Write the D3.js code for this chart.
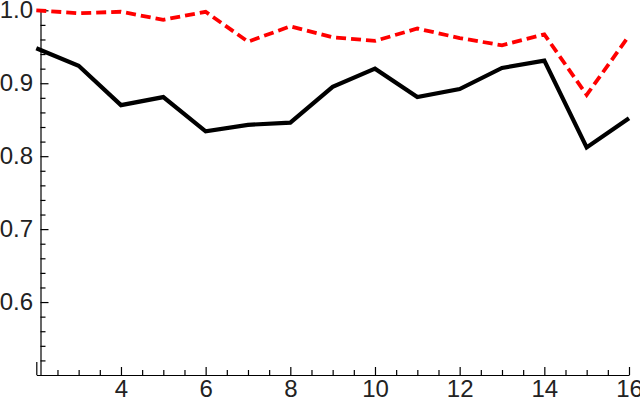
<!DOCTYPE html>
<html>
<head>
<meta charset="utf-8">
<script src="https://cdn.jsdelivr.net/npm/d3@7"></script>
<style>
html,body{margin:0;padding:0;background:#fff;}
svg{display:block;}
</style>
</head>
<body>
<svg id="chart" width="640" height="401"></svg>
<script>
const xValues = [2,3,4,5,6,7,8,9,10,11,12,13,14,15,16];
const seriesSolid = [0.948,0.924,0.870,0.881,0.834,0.843,0.846,0.895,0.920,0.881,0.892,0.921,0.931,0.812,0.852];
const seriesDashed = [1.000,0.996,0.998,0.987,0.998,0.957,0.978,0.963,0.958,0.975,0.962,0.952,0.967,0.884,0.965];
const xMajorTicks = [4,6,8,10,12,14,16];
const yMajorTicks = [0.6,0.7,0.8,0.9,1.0];

const svg = d3.select("#chart");
const x = d3.scaleLinear().domain([2,16]).range([36.3,629]);
const y = d3.scaleLinear().domain([0.5,1.0]).range([375,10.3]);
const axisX = 40.5, axisY = 375;

const xMinor = d3.range(2,16.001,0.5).filter(v=>!xMajorTicks.includes(v) && v!==2);
const yMinor = d3.range(0.5,1.0001,0.02).map(v=>+v.toFixed(2)).filter(v=>Math.abs(v*10-Math.round(v*10))>1e-6);

// x axis
const gx = svg.append("g").attr("transform",`translate(0,${axisY})`);
gx.call(d3.axisBottom(x).tickValues(xMinor).tickSizeInner(-5).tickSizeOuter(0).tickFormat(""));
const gx2 = svg.append("g").attr("transform",`translate(0,${axisY})`);
gx2.call(d3.axisBottom(x).tickValues(xMajorTicks).tickSizeInner(-8).tickSizeOuter(0).tickPadding(5).tickFormat(d3.format("d")));
gx2.select(".domain").remove();
const gx3 = svg.append("g").attr("transform",`translate(0,${axisY})`);
gx3.call(d3.axisBottom(x).tickValues([2]).tickSizeInner(-13).tickSizeOuter(0).tickFormat(""));
gx3.select(".domain").remove();

// y axis
const gy = svg.append("g").attr("transform",`translate(${axisX},0)`);
gy.call(d3.axisLeft(y).tickValues(yMinor).tickSizeInner(-5).tickSizeOuter(0).tickFormat(""));
const gy2 = svg.append("g").attr("transform",`translate(${axisX},0)`);
gy2.call(d3.axisLeft(y).tickValues(yMajorTicks).tickSizeInner(-8).tickSizeOuter(0).tickPadding(7.5).tickFormat(d3.format(".1f")));
gy2.select(".domain").remove();

svg.selectAll(".tick line, .domain").attr("stroke","#000").attr("stroke-width",1.2);
svg.selectAll(".tick text").attr("font-family","'Liberation Sans', Arial, sans-serif").attr("font-size",24).attr("fill","#222");

const line = d3.line().x((d,i)=>x(xValues[i])).y(d=>y(d));

svg.append("path").datum(seriesSolid)
  .attr("d",line).attr("fill","none").attr("stroke","#000")
  .attr("stroke-width",4.2).attr("stroke-linejoin","miter");

svg.append("path").datum(seriesDashed)
  .attr("d",line).attr("fill","none").attr("stroke","#ff0000")
  .attr("stroke-width",3.8).attr("stroke-dasharray","10,5");
</script>
</body>
</html>
